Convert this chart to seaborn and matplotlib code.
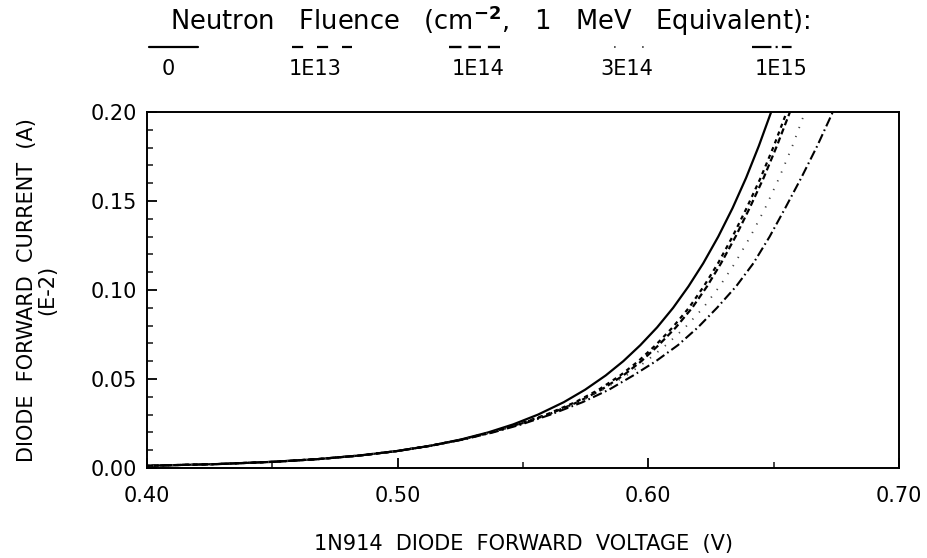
import matplotlib
matplotlib.use("Agg")
import matplotlib.pyplot as plt
from matplotlib.lines import Line2D
from matplotlib.ticker import MultipleLocator, FormatStrFormatter
import pandas as pd
import seaborn as sns

# Diode forward current levels (units of 1E-2 A), shared by every fluence curve
current = [0.0012, 0.0022, 0.0035, 0.0050, 0.0070, 0.0095, 0.0125, 0.0160,
           0.0200, 0.0245, 0.0300, 0.0370, 0.0440, 0.0520, 0.0600, 0.0690,
           0.0790, 0.0900, 0.1020, 0.1150, 0.1300, 0.1460, 0.1630, 0.1810,
           0.2000]

# Forward voltage (V) needed to reach each current level, per neutron fluence
voltage_0 = [0.3985, 0.4279, 0.4507, 0.4682, 0.4847, 0.4996, 0.5131, 0.5252,
             0.5361, 0.5461, 0.5560, 0.5663, 0.5748, 0.5830, 0.5900, 0.5968,
             0.6035, 0.6099, 0.6160, 0.6219, 0.6279, 0.6336, 0.6390, 0.6441,
             0.6490]
voltage_1e13 = [0.3985, 0.4279, 0.4507, 0.4682, 0.4847, 0.4996, 0.5131, 0.5256,
                0.5371, 0.5479, 0.5593, 0.5709, 0.5802, 0.5888, 0.5960, 0.6029,
                0.6097, 0.6162, 0.6221, 0.6278, 0.6336, 0.6392, 0.6448, 0.6501,
                0.6552]
voltage_1e14 = [0.3985, 0.4279, 0.4507, 0.4682, 0.4847, 0.4996, 0.5131, 0.5257,
                0.5373, 0.5483, 0.5600, 0.5718, 0.5813, 0.5900, 0.5972, 0.6041,
                0.6110, 0.6175, 0.6234, 0.6290, 0.6348, 0.6404, 0.6460, 0.6513,
                0.6565]
voltage_3e14 = [0.3985, 0.4279, 0.4507, 0.4682, 0.4847, 0.4996, 0.5131, 0.5257,
                0.5374, 0.5486, 0.5605, 0.5723, 0.5818, 0.5912, 0.5992, 0.6070,
                0.6147, 0.6219, 0.6284, 0.6345, 0.6407, 0.6466, 0.6522, 0.6575,
                0.6625]
voltage_1e15 = [0.3985, 0.4279, 0.4507, 0.4682, 0.4847, 0.4996, 0.5131, 0.5262,
                0.5381, 0.5494, 0.5610, 0.5738, 0.5843, 0.5940, 0.6030, 0.6118,
                0.6198, 0.6274, 0.6350, 0.6419, 0.6484, 0.6546, 0.6610, 0.6674,
                0.6736]

fluence_labels = ["0", "1E13", "1E14", "3E14", "1E15"]
voltages = [voltage_0, voltage_1e13, voltage_1e14, voltage_3e14, voltage_1e15]

x_ticks = [0.40, 0.50, 0.60, 0.70]
y_ticks = [0.00, 0.05, 0.10, 0.15, 0.20]

# Curve style per fluence: (dash pattern in points, width, colour)
styles = {
    "0":    (None, 1.6, "black"),
    "1E13": ((0, (3.0, 3.0)), 1.6, "black"),
    "1E14": ((0, (4.5, 2.5)), 1.6, "black"),
    "3E14": ((0, (0.9, 6.0)), 1.3, "#444444"),
    "1E15": ((0, (7.0, 2.5, 1.2, 2.5)), 1.5, "black"),
}
# Dash patterns used for the key samples above the plot
key_styles = {
    "0":    ("-", 1.6, "black"),
    "1E13": ((0, (8.0, 10.0)), 1.6, "black"),
    "1E14": ((0, (9.0, 5.0)), 1.7, "black"),
    "3E14": ((0, (1.2, 19.0)), 1.4, "#555555"),
    "1E15": ((0, (14.0, 3.0, 1.5, 3.0, 7.0, 20.0)), 1.6, "black"),
}

frames = []
for label, volts in zip(fluence_labels, voltages):
    frames.append(pd.DataFrame({"voltage": volts, "current": current, "fluence": label}))
df = pd.concat(frames, ignore_index=True)

sns.set_theme(style="white")
plt.rcParams["font.family"] = ["DejaVu Sans"]
plt.rcParams["lines.scale_dashes"] = False

fig = plt.figure(figsize=(9.27, 5.58), dpi=100)
ax = fig.add_axes([147 / 927, 1 - 468 / 558, (899 - 147) / 927, (468 - 112) / 558])

for label in fluence_labels:
    sub = df[df["fluence"] == label]
    ls, lw, col = styles[label]
    kw = {} if ls is None else {"linestyle": ls}
    sns.lineplot(data=sub, x="voltage", y="current", ax=ax, color=col,
                 linewidth=lw, sort=False, estimator=None, legend=False, **kw)

ax.set_xlim(0.40, 0.70)
ax.set_ylim(0.00, 0.20)
ax.set_xticks(x_ticks)
ax.set_yticks(y_ticks)
ax.xaxis.set_minor_locator(MultipleLocator(0.05))
ax.yaxis.set_minor_locator(MultipleLocator(0.01))
ax.xaxis.set_major_formatter(FormatStrFormatter("%.2f"))
ax.yaxis.set_major_formatter(FormatStrFormatter("%.2f"))
ax.tick_params(axis="both", which="major", direction="in", length=7, width=1.3,
               labelsize=15, colors="black", pad=7)
ax.tick_params(axis="both", which="minor", direction="in", length=4, width=1.2)
ax.tick_params(axis="x", which="both", top=False, bottom=True)
ax.tick_params(axis="y", which="both", right=False, left=True)
ax.tick_params(axis="x", which="major", pad=13)

for spine in ax.spines.values():
    spine.set_color("black")
    spine.set_linewidth(1.4)

ax.set_xlabel("1N914  DIODE  FORWARD  VOLTAGE  (V)", fontsize=15, labelpad=20,
              color="black")
ax.set_ylabel("DIODE  FORWARD  CURRENT  (A)\n(E-2)", fontsize=15, labelpad=24,
              color="black", linespacing=1.05)

# Fluence key across the top of the figure
fig.text(490 / 927, 1 - 21 / 558,
         r"Neutron   Fluence   (cm$^{\mathbf{-2}}$,   1   MeV   Equivalent):",
         ha="center", va="center", fontsize=18.5, color="black")

key_spans = {"0": (149, 198), "1E13": (292, 352), "1E14": (449, 500),
             "3E14": (614, 646), "1E15": (752, 814)}
key_label_x = {"0": 168, "1E13": 315, "1E14": 478, "3E14": 627, "1E15": 781}
for label in fluence_labels:
    x0, x1 = key_spans[label]
    ls, lw, col = key_styles[label]
    line = Line2D([x0 / 927, x1 / 927], [1 - 47 / 558, 1 - 47 / 558],
                  transform=fig.transFigure, color=col, linewidth=lw, linestyle=ls)
    fig.add_artist(line)
    fig.text(key_label_x[label] / 927, 1 - 69 / 558, label, ha="center",
             va="center", fontsize=15, color="black")

fig.savefig("out.png", dpi=100, facecolor="white")
